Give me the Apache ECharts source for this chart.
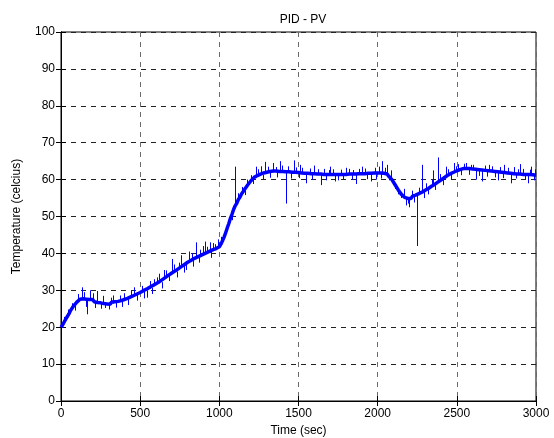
<!DOCTYPE html>
<html>
<head>
<meta charset="utf-8">
<script src="https://cdn.jsdelivr.net/npm/echarts@6/dist/echarts.min.js"></script>
<style>html,body{margin:0;padding:0;background:#fff}#c{width:554px;height:438px}</style>
</head>
<body>
<div id="c"></div>
<script>
// Sample spacing of the recorded trace (seconds)
var step = 10;
// Temperature readings (celcius), one per 10 s, grouped by 100 s blocks
var pv0000 = [20.0, 20.6, 21.4, 22.2, 22.9, 23.6, 24.5, 24.9, 25.8, 26.1];
var pv0100 = [26.8, 27.0, 27.6, 27.2, 27.7, 27.2, 27.6, 27.1, 27.5, 27.0];
var pv0200 = [27.5, 26.9, 27.3, 26.7, 27.1, 26.6, 27.0, 26.4, 26.8, 26.3];
var pv0300 = [26.7, 26.2, 26.8, 26.3, 26.9, 26.4, 27.0, 26.6, 27.2, 26.9];
var pv0400 = [27.5, 27.1, 27.8, 27.5, 28.2, 27.9, 28.6, 28.3, 29.0, 28.8];
var pv0500 = [29.4, 29.2, 29.9, 29.6, 30.3, 30.1, 30.8, 30.6, 31.3, 31.1];
var pv0600 = [31.8, 31.6, 32.3, 32.1, 32.9, 32.6, 33.5, 33.2, 34.1, 33.8];
var pv0700 = [34.7, 34.4, 35.2, 35.0, 35.8, 35.6, 36.4, 36.2, 37.0, 36.8];
var pv0800 = [37.6, 37.3, 38.1, 37.8, 38.6, 38.3, 39.0, 38.7, 39.4, 39.1];
var pv0900 = [39.8, 39.5, 40.2, 39.9, 40.6, 40.3, 41.0, 40.7, 41.3, 41.1];
var pv1000 = [41.8, 42.5, 43.4, 44.4, 45.6, 46.9, 48.1, 49.5, 50.6, 51.9];
var pv1100 = [52.9, 53.6, 54.6, 55.2, 56.1, 56.7, 57.4, 57.9, 58.6, 59.0];
var pv1200 = [59.7, 59.9, 60.6, 60.5, 61.1, 60.9, 61.5, 61.3, 61.8, 61.5];
var pv1300 = [62.0, 61.7, 62.2, 61.8, 62.3, 61.9, 62.3, 61.8, 62.2, 61.8];
var pv1400 = [62.2, 61.7, 62.1, 61.7, 62.1, 61.6, 62.0, 61.5, 62.0, 61.5];
var pv1500 = [61.9, 61.4, 61.8, 61.3, 61.7, 61.2, 61.7, 61.2, 61.6, 61.1];
var pv1600 = [61.6, 61.1, 61.5, 61.0, 61.5, 61.0, 61.4, 60.9, 61.4, 60.9];
var pv1700 = [61.4, 60.9, 61.4, 60.9, 61.4, 60.9, 61.4, 60.9, 61.4, 61.0];
var pv1800 = [61.4, 61.0, 61.5, 61.0, 61.5, 61.0, 61.5, 61.1, 61.6, 61.1];
var pv1900 = [61.6, 61.1, 61.6, 61.2, 61.7, 61.2, 61.7, 61.3, 61.8, 61.3];
var pv2000 = [61.8, 61.3, 61.8, 61.3, 61.7, 61.2, 61.5, 60.9, 60.8, 60.0];
var pv2100 = [59.5, 58.6, 58.2, 57.2, 56.8, 56.0, 55.8, 55.2, 55.4, 54.9];
var pv2200 = [55.3, 54.9, 55.5, 55.1, 55.8, 55.5, 56.2, 55.9, 56.6, 56.4];
var pv2300 = [57.1, 56.9, 57.6, 57.5, 58.2, 58.1, 58.7, 58.7, 59.3, 59.3];
var pv2400 = [59.9, 59.9, 60.5, 60.5, 61.1, 61.0, 61.6, 61.5, 62.0, 61.9];
var pv2500 = [62.4, 62.2, 62.7, 62.5, 63.0, 62.6, 63.0, 62.6, 63.0, 62.5];
var pv2600 = [62.9, 62.4, 62.8, 62.3, 62.7, 62.2, 62.6, 62.1, 62.5, 62.0];
var pv2700 = [62.4, 61.9, 62.3, 61.8, 62.2, 61.7, 62.1, 61.6, 62.0, 61.5];
var pv2800 = [61.9, 61.4, 61.8, 61.3, 61.7, 61.2, 61.6, 61.1, 61.5, 61.0];
var pv2900 = [61.5, 61.0, 61.4, 60.9, 61.4, 60.9, 61.4, 60.9, 61.3, 60.9];
var pv3000 = [61.2];

// Large noise spikes: [time (sec), start value, tip value]
var bigSpikes = [
  [130, 27.5, 30.8], [165, 27.2, 23.5], [185, 27.4, 30.0], [230, 27.0, 29.8], [250, 26.6, 25.0],
  [300, 26.6, 24.8], [330, 26.4, 28.6], [400, 27.4, 29.2], [420, 27.6, 26.0], [460, 28.4, 30.8],
  [540, 30.0, 28.0], [590, 31.1, 33.0], [620, 31.9, 34.5], [650, 32.8, 35.5], [680, 34.0, 32.5],
  [700, 34.6, 38.5], [730, 35.1, 33.5], [760, 36.3, 39.5], [790, 36.9, 35.5], [810, 37.4, 40.5],
  [850, 38.5, 43.0], [870, 38.8, 37.5], [910, 39.6, 43.2], [940, 40.1, 43.0], [960, 40.6, 42.8],
  [990, 41.2, 43.8], [1100, 52.8, 63.5], [1140, 56.0, 58.0], [1230, 60.5, 63.5], [1290, 61.6, 64.8],
  [1340, 62.0, 64.5], [1380, 62.0, 65.0], [1420, 62.0, 53.5], [1470, 61.8, 65.2], [1510, 61.7, 64.0],
  [1550, 61.4, 59.0], [1600, 61.4, 63.8], [1640, 61.2, 58.5], [1700, 61.2, 63.5], [1730, 61.2, 59.5],
  [1800, 61.3, 63.2], [1860, 61.3, 58.8], [1900, 61.4, 63.5], [1960, 61.5, 59.5], [2030, 61.6, 65.0],
  [2060, 61.5, 64.0], [2180, 55.3, 53.0], [2200, 55.2, 52.5], [2250, 55.8, 42.0], [2280, 56.5, 64.0],
  [2350, 58.4, 62.5], [2380, 59.2, 66.0], [2430, 60.6, 63.5], [2480, 61.9, 64.5], [2560, 62.9, 64.5],
  [2620, 62.6, 60.0], [2660, 62.5, 59.5], [2700, 62.2, 64.0], [2760, 62.0, 59.8], [2800, 61.7, 64.0],
  [2840, 61.6, 59.0], [2900, 61.3, 64.2], [2950, 61.2, 59.0], [2970, 61.2, 63.5]
];
// Small noise fuzz around the trace: [time (sec), start value, tip value]
var fuzz = [
  [20, 21.4, 22.8], [45, 23.0, 24.8], [70, 24.7, 26.5], [90, 26.0, 24.5], [110, 27.0, 29.0],
  [145, 27.5, 29.5], [155, 27.4, 25.5], [200, 27.3, 29.2], [215, 27.0, 25.2], [265, 26.8, 28.5],
  [280, 26.6, 25.2], [315, 26.4, 28.0], [350, 26.6, 25.3], [370, 26.8, 28.6], [385, 27.0, 25.5],
  [440, 28.0, 29.8], [480, 28.8, 27.2], [510, 29.3, 31.2], [525, 29.7, 27.8], [560, 30.4, 32.5],
  [575, 30.7, 29.0], [605, 31.7, 33.5], [635, 32.2, 30.5], [665, 33.3, 35.4], [715, 34.8, 37.0],
  [745, 35.7, 37.5], [775, 36.6, 34.8], [825, 37.9, 40.0], [835, 38.2, 36.4], [880, 39.0, 41.0],
  [895, 39.3, 42.0], [925, 40.0, 41.8], [950, 40.4, 38.8], [975, 40.9, 42.5], [1010, 42.5, 44.5],
  [1030, 44.0, 45.8], [1060, 48.0, 49.5], [1080, 50.5, 49.0], [1120, 54.5, 56.3], [1160, 57.4, 55.8],
  [1175, 58.2, 60.0], [1200, 59.5, 61.2], [1215, 60.2, 58.8], [1245, 61.0, 62.8], [1260, 61.2, 63.6],
  [1275, 61.3, 60.0], [1310, 61.9, 63.5], [1320, 62.0, 60.5], [1355, 62.0, 63.4], [1365, 62.0, 60.6],
  [1395, 62.0, 63.8], [1435, 62.0, 63.6], [1450, 61.8, 60.3], [1485, 61.7, 63.3], [1500, 61.7, 60.4],
  [1525, 61.6, 63.2], [1570, 61.4, 63.0], [1585, 61.4, 60.0], [1620, 61.3, 62.8], [1660, 61.2, 62.9],
  [1675, 61.2, 59.8], [1690, 61.2, 62.6], [1715, 61.2, 62.8], [1750, 61.2, 59.8], [1770, 61.2, 62.7],
  [1780, 61.2, 60.0], [1820, 61.3, 62.9], [1835, 61.3, 60.0], [1845, 61.3, 62.6], [1880, 61.4, 62.9],
  [1920, 61.4, 63.0], [1935, 61.4, 60.1], [1980, 61.5, 63.2], [1990, 61.5, 60.0], [2010, 61.6, 63.5],
  [2020, 61.6, 60.3], [2045, 61.5, 63.2], [2070, 61.2, 59.8], [2085, 60.5, 62.5], [2110, 59.0, 57.5],
  [2130, 57.5, 56.0], [2150, 56.5, 55.0], [2165, 55.8, 57.5], [2190, 55.2, 53.5], [2215, 55.2, 57.0],
  [2230, 55.4, 53.8], [2260, 56.0, 57.8], [2290, 56.7, 55.0], [2305, 57.0, 59.0], [2320, 57.5, 56.0],
  [2340, 58.0, 60.0], [2365, 58.6, 57.2], [2395, 59.5, 61.5], [2410, 60.0, 58.5], [2445, 61.0, 62.8],
  [2460, 61.3, 60.0], [2495, 62.0, 63.6], [2510, 62.3, 64.2], [2525, 62.6, 61.2], [2545, 62.8, 64.3],
  [2575, 62.8, 61.3], [2590, 62.7, 64.0], [2605, 62.6, 64.0], [2640, 62.5, 61.0], [2675, 62.4, 63.8],
  [2690, 62.2, 60.8], [2720, 62.1, 63.6], [2740, 62.0, 60.6], [2775, 61.9, 63.4], [2790, 61.8, 60.4],
  [2820, 61.6, 63.2], [2860, 61.5, 63.4], [2875, 61.4, 60.3], [2885, 61.3, 62.8], [2915, 61.2, 62.9],
  [2930, 61.2, 60.0], [2960, 61.1, 62.7], [2985, 61.1, 59.8], [2995, 61.1, 62.8]
];

var xTicks = [0, 500, 1000, 1500, 2000, 2500, 3000];
var yTicks = [0, 10, 20, 30, 40, 50, 60, 70, 80, 90, 100];

var all = [].concat(pv0000, pv0100, pv0200, pv0300, pv0400, pv0500, pv0600, pv0700,
  pv0800, pv0900, pv1000, pv1100, pv1200, pv1300, pv1400, pv1500, pv1600, pv1700,
  pv1800, pv1900, pv2000, pv2100, pv2200, pv2300, pv2400, pv2500, pv2600, pv2700,
  pv2800, pv2900, pv3000);
var data = all.map(function (v, i) { return [i * step, v]; });
var spikes = bigSpikes.concat(fuzz);

var font = 'Liberation Sans, Arial, sans-serif';
var chart = echarts.init(document.getElementById('c'), null, {renderer: 'canvas'});
var gridDash = {type: [5, 5], width: 1};
var plain = function (v) { return String(v); };
chart.setOption({
  animation: false,
  backgroundColor: '#fff',
  title: {
    text: 'PID - PV', left: 298, top: 9, textAlign: 'center',
    textStyle: {fontFamily: font, fontSize: 12, fontWeight: 'normal', color: '#000'}
  },
  grid: {left: 61, right: 18, top: 32, bottom: 37, outerBoundsMode: 'none', containLabel: false,
    show: true, borderColor: '#000', borderWidth: 1, backgroundColor: 'transparent'},
  xAxis: [{
    type: 'value', min: xTicks[0], max: xTicks[xTicks.length - 1], interval: 500,
    name: 'Time (sec)', nameLocation: 'middle', nameGap: 20,
    nameTextStyle: {fontFamily: font, fontSize: 12, color: '#000'},
    axisLine: {lineStyle: {color: '#000'}},
    axisTick: {inside: true, length: 5, lineStyle: {color: '#000'}},
    axisLabel: {fontFamily: font, fontSize: 12, color: '#000', margin: 7, formatter: plain},
    splitLine: {show: true, lineStyle: Object.assign({color: '#6a6a6a'}, gridDash)}
  }, {
    type: 'value', position: 'top', min: 0, max: 3000, interval: 500,
    axisLine: {show: true, lineStyle: {color: '#000'}},
    axisTick: {inside: true, length: 5, lineStyle: {color: '#000'}},
    axisLabel: {show: false}, splitLine: {show: false}
  }],
  yAxis: [{
    type: 'value', min: yTicks[0], max: yTicks[yTicks.length - 1], interval: 10,
    name: 'Temperature (celcius)', nameLocation: 'middle', nameGap: 38,
    nameTextStyle: {fontFamily: font, fontSize: 12, color: '#000'},
    axisLine: {show: true, lineStyle: {color: '#000'}},
    axisTick: {show: true, inside: true, length: 5, lineStyle: {color: '#000'}},
    axisLabel: {fontFamily: font, fontSize: 12, color: '#000', margin: 6, formatter: plain},
    splitLine: {show: true, lineStyle: Object.assign({color: '#222'}, gridDash)}
  }, {
    type: 'value', position: 'right', min: 0, max: 100, interval: 10,
    axisLine: {show: true, lineStyle: {color: '#000'}},
    axisTick: {show: true, inside: true, length: 5, lineStyle: {color: '#000'}},
    axisLabel: {show: false}, splitLine: {show: false}
  }],
  series: [{
    type: 'line', xAxisIndex: 0, yAxisIndex: 0, data: data,
    showSymbol: false, symbol: 'none', sampling: null,
    lineStyle: {color: '#0000ff', width: 3.5}
  }, {
    type: 'custom', xAxisIndex: 0, yAxisIndex: 0, data: spikes,
    renderItem: function (params, api) {
      var a = api.coord([api.value(0), api.value(1)]);
      var b = api.coord([api.value(0), api.value(2)]);
      return {type: 'line', shape: {x1: Math.round(a[0]) + 0.5, y1: a[1], x2: Math.round(b[0]) + 0.5, y2: b[1]},
        style: {stroke: '#0000ff', lineWidth: 1}};
    }
  }]
});
</script>
</body>
</html>
